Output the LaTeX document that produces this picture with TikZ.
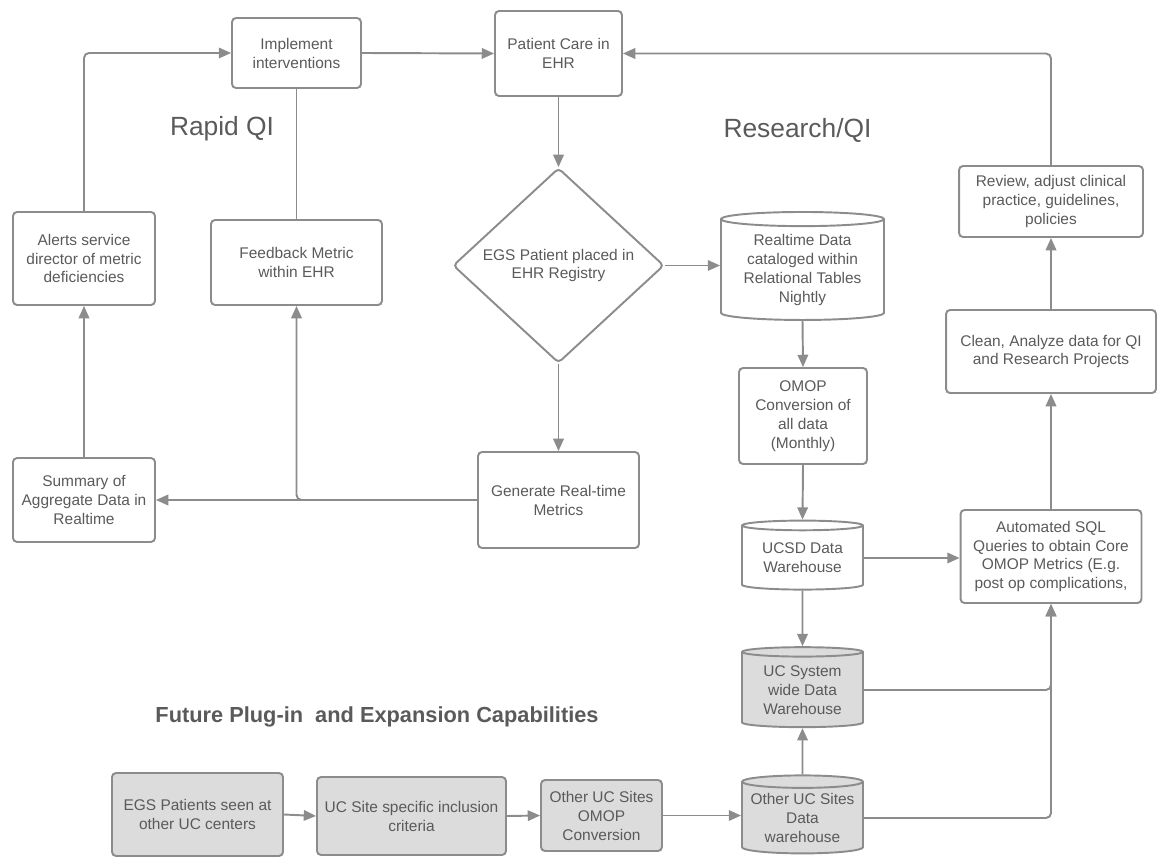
\documentclass[tikz,border=0pt]{standalone}
\usepackage{fontspec}
\setmainfont{Liberation Sans}
\usetikzlibrary{arrows.meta,positioning,shapes.geometric,calc}
\usepackage{xcolor}
\definecolor{inkgray}{HTML}{5A5A5A}
\definecolor{linegray}{HTML}{8C8C8C}
\definecolor{boxfill}{HTML}{DCDCDC}
\newcommand{\bodyfont}{\fontsize{8.8}{10.8}\selectfont}
\tikzset{
  box/.style={draw=linegray, rounded corners=0.8mm, line width=1.1pt, align=center, text=inkgray, font=\bodyfont, inner sep=1mm},
  graybox/.style={box, fill=boxfill},
  decision/.style={diamond, draw=linegray, rounded corners=0.8mm, line width=1.1pt, align=center, text=inkgray, font=\bodyfont, inner sep=0pt},
  dbase/.style={cylinder, shape border rotate=90, aspect=0.12, draw=linegray, line width=1.1pt, align=center, text=inkgray, font=\bodyfont, inner sep=0pt},
  graydbase/.style={dbase, fill=boxfill},
  title/.style={text=inkgray, font=\fontsize{15}{18}\selectfont},
  arrow/.style={-{Triangle[length=7pt, width=6pt]}, line width=1.1pt, draw=linegray, rounded corners=1mm},
  link/.style={line width=1.1pt, draw=linegray}
}

\begin{document}
\begin{tikzpicture}[x=0.02cm, y=-0.02cm]
  \useasboundingbox (0,0) rectangle (1158,857);

  % rapid QI loop
  \node[box, minimum width=2.58cm, minimum height=1.40cm] (implement) at (296.5,53) {Implement\\interventions};
  \node[box, minimum width=2.54cm, minimum height=1.70cm] (care) at (558.5,53.5) {Patient Care in\\EHR};
  \node[box, minimum width=2.84cm, minimum height=1.86cm] (alerts) at (84,258.5) {Alerts service\\director of metric\\deficiencies};
  \node[box, minimum width=3.42cm, minimum height=1.70cm] (feedback) at (296.5,262.5) {Feedback Metric\\within EHR};
  \node[box, minimum width=2.84cm, minimum height=1.68cm] (summary) at (84,500) {Summary of\\Aggregate Data in\\Realtime};
  \node[box, minimum width=3.22cm, minimum height=1.92cm] (generate) at (558.5,500) {Generate Real-time\\Metrics};
  \node[decision, minimum width=4.22cm, minimum height=3.90cm] (registry) at (558.5,265.5) {EGS Patient placed in\\EHR Registry};

  \node[title] (rapid) at (222,129) {Rapid QI};
  \node[title] (research) at (797.5,130) {Research/QI};

  % research / QI column
  \node[dbase, minimum width=3.26cm, minimum height=2.16cm] (realtime) at (802.5,270) {Realtime Data\\cataloged within\\Relational Tables\\Nightly};
  \node[box, minimum width=2.56cm, minimum height=1.92cm] (omop) at (803,416) {OMOP\\Conversion of\\all data\\(Monthly)};
  \node[dbase, minimum width=2.42cm, minimum height=1.38cm] (ucsd) at (802.5,558) {UCSD Data\\Warehouse};
  \node[graydbase, minimum width=2.42cm, minimum height=1.60cm] (ucsys) at (802.5,690) {UC System\\wide Data\\Warehouse};
  \node[graydbase, minimum width=2.42cm, minimum height=1.56cm] (otherdw) at (802.5,818) {Other UC Sites\\Data\\warehouse};

  \node[box, minimum width=3.68cm, minimum height=1.42cm] (review) at (1051,201.5) {Review, adjust clinical\\practice, guidelines,\\policies};
  \node[box, minimum width=4.20cm, minimum height=1.66cm] (clean) at (1051,351.5) {Clean, Analyze data for QI\\and Research Projects};
  \node[box, minimum width=3.62cm, minimum height=1.86cm] (sql) at (1051,556.5) {Automated SQL\\Queries to obtain Core\\OMOP Metrics (E.g.\\post op complications,};

  % future expansion row
  \node[text=inkgray, font=\fontsize{12.4}{15}\selectfont\bfseries] (future) at (377,717) {Future Plug-in\ \ and Expansion Capabilities};
  \node[graybox, minimum width=3.42cm, minimum height=1.66cm] (others) at (197.5,814.5) {EGS Patients seen at\\other UC centers};
  \node[graybox, minimum width=3.78cm, minimum height=1.56cm] (criteria) at (411.5,816) {UC Site specific inclusion\\criteria};
  \node[graybox, minimum width=2.42cm, minimum height=1.42cm] (siteomop) at (601.5,815.5) {Other UC Sites\\OMOP\\Conversion};

  % rapid QI arrows
  \draw[arrow] (alerts.north) |- (implement.west);
  \draw[link] (feedback.north) -- (implement.south);
  \draw[arrow] (implement.east) -- (care.west);
  \draw[arrow] (review.north) |- (care.east);
  \draw[arrow] (care.south) -- (registry.north);
  \draw[arrow] (registry.south) -- (generate.north);
  \draw[arrow] (generate.west) -- (summary.east);
  \draw[arrow] (generate.west) -| (feedback.south);
  \draw[arrow] (summary.north) -- (alerts.south);

  % research arrows
  \draw[arrow] (registry.east) -- (registry.east -| realtime.west);
  \draw[arrow] (realtime.south) -- (omop.north);
  \draw[arrow] (omop.south) -- (ucsd.north);
  \draw[arrow] (ucsd.east) -- (ucsd.east -| sql.west);
  \draw[arrow] (ucsd.south) -- (ucsys.north);
  \draw[arrow] (ucsys.east) -| (sql.south);
  \draw[arrow] (otherdw.east) -| (sql.south);
  \draw[arrow] (otherdw.north) -- (ucsys.south);
  \draw[arrow] (sql.north) -- (clean.south);
  \draw[arrow] (clean.north) -- (review.south);

  % expansion arrows
  \draw[arrow] (others.east) -- (criteria.west);
  \draw[arrow] (criteria.east) -- (siteomop.west);
  \draw[arrow] (siteomop.east) -- (siteomop.east -| otherdw.west);
\end{tikzpicture}
\end{document}
